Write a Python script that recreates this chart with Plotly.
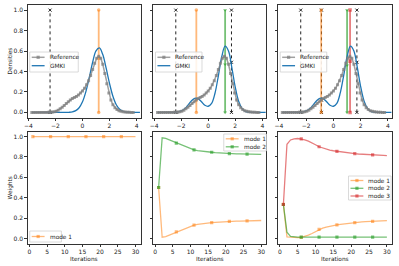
import plotly.graph_objects as go

# ---------------- data ----------------
ref_x = [-3.75, -3.6, -3.45, -3.3, -3.15, -3.0, -2.85, -2.7, -2.55, -2.4, -2.25,
         -2.1, -1.95, -1.8, -1.65, -1.5, -1.35, -1.2, -1.05, -0.9, -0.75, -0.6,
         -0.45, -0.3, -0.15, 0.0, 0.15, 0.3, 0.45, 0.6, 0.75, 0.9, 1.05, 1.2,
         1.35, 1.5, 1.65, 1.8, 1.95, 2.1, 2.25, 2.4, 2.55, 2.7, 2.85, 3.0, 3.15,
         3.3, 3.45, 3.6, 3.75]
ref_y = [0.0, 0.0, 0.0, 0.0, 0.0, 0.0, 0.0, 0.0, 0.0, 0.001, 0.002,
         0.005, 0.012, 0.022, 0.035, 0.05, 0.068, 0.088, 0.105, 0.12, 0.135, 0.145,
         0.155, 0.17, 0.19, 0.21, 0.235, 0.27, 0.31, 0.36, 0.42, 0.48, 0.53, 0.55,
         0.53, 0.47, 0.38, 0.28, 0.19, 0.12, 0.075, 0.045, 0.028, 0.017, 0.01, 0.006, 0.003,
         0.002, 0.001, 0.0, 0.0]

gmki_x = [-3.75, -3.5, -3.25, -3.0, -2.75, -2.5, -2.25, -2.0, -1.75, -1.5, -1.25,
          -1.0, -0.75, -0.5, -0.25, 0.0, 0.25, 0.5, 0.75, 1.0, 1.25, 1.5, 1.75,
          2.0, 2.25, 2.5, 2.75, 3.0, 3.25, 3.5, 3.75, 4.0, 4.25]
gmki_y1 = [0.0, 0.0, 0.0, 0.0, 0.0, 0.0, 0.0, 0.0, 0.0, 0.0, 0.0,
           0.001, 0.005, 0.017, 0.045, 0.103, 0.203, 0.341, 0.49, 0.602, 0.63, 0.565, 0.432,
           0.283, 0.158, 0.075, 0.031, 0.011, 0.003, 0.001, 0.0, 0.0, 0.0]
gmki_y2 = [0.0, 0.0, 0.0, 0.0, 0.0, 0.001, 0.004, 0.014, 0.035, 0.071, 0.111,
           0.137, 0.134, 0.104, 0.07, 0.06, 0.088, 0.187, 0.358, 0.544, 0.647, 0.60, 0.436,
           0.247, 0.109, 0.038, 0.01, 0.002, 0.0, 0.0, 0.0, 0.0, 0.0]
gmki_y3 = [0.0, 0.0, 0.0, 0.0, 0.0, 0.001, 0.004, 0.014, 0.035, 0.071, 0.111,
           0.137, 0.134, 0.104, 0.07, 0.06, 0.088, 0.19, 0.36, 0.545, 0.648, 0.60, 0.44,
           0.25, 0.11, 0.04, 0.01, 0.002, 0.0, 0.0, 0.0, 0.0, 0.0]

# vertical mode markers: positions and middle-marker heights
true_x = [[-2.4], [-2.4, 1.72], [-2.4, -0.88, 1.72]]
true_mid = [[0.0], [0.0, 0.49], [0.0, 0.12, 0.49]]
est_x = [[1.2], [-0.88, 1.25], [-0.9, 1.0, 1.22]]
est_mid = [[0.53], [0.12, 0.47], [0.12, 0.46, 0.5]]

iterations = list(range(1, 31))
w1_mode1 = [1.0, 1.0, 1.0, 1.0, 1.0, 1.0, 1.0, 1.0, 1.0, 1.0, 1.0, 1.0, 1.0, 1.0, 1.0,
            1.0, 1.0, 1.0, 1.0, 1.0, 1.0, 1.0, 1.0, 1.0, 1.0, 1.0, 1.0, 1.0, 1.0, 1.0]
w2_mode2 = [0.50, 0.988, 0.982, 0.968, 0.952, 0.935, 0.92, 0.905, 0.893, 0.881, 0.87,
            0.863, 0.857, 0.852, 0.849, 0.846, 0.843, 0.840, 0.838, 0.835, 0.833,
            0.832, 0.831, 0.830, 0.829, 0.827, 0.826, 0.826, 0.825, 0.825]
w2_mode1 = [0.50, 0.012, 0.018, 0.032, 0.048, 0.065, 0.08, 0.095, 0.107, 0.119, 0.13,
            0.137, 0.143, 0.148, 0.152, 0.155, 0.158, 0.161, 0.163, 0.165, 0.167,
            0.168, 0.169, 0.170, 0.171, 0.173, 0.174, 0.174, 0.175, 0.176]
w3_mode3 = [0.333, 0.925, 0.967, 0.978, 0.981, 0.978, 0.968, 0.955, 0.94, 0.92, 0.90,
            0.888, 0.877, 0.868, 0.861, 0.855, 0.85, 0.845, 0.84, 0.836, 0.832,
            0.829, 0.826, 0.824, 0.822, 0.82, 0.818, 0.816, 0.815, 0.813]
w3_mode2 = [0.333, 0.06, 0.02, 0.013, 0.012, 0.012, 0.012, 0.012, 0.012, 0.012, 0.012,
            0.012, 0.012, 0.012, 0.012, 0.012, 0.012, 0.012, 0.012, 0.012, 0.012,
            0.012, 0.012, 0.012, 0.012, 0.012, 0.012, 0.012, 0.012, 0.012]
w3_mode1 = [0.334, 0.015, 0.013, 0.009, 0.007, 0.01, 0.02, 0.033, 0.048, 0.068, 0.088,
            0.1, 0.111, 0.12, 0.127, 0.133, 0.138, 0.143, 0.148, 0.152, 0.156,
            0.159, 0.162, 0.164, 0.166, 0.168, 0.17, 0.172, 0.173, 0.175]

density_ticks = [-4, -2, 0, 2, 4]
weight_ticks = [0, 5, 10, 15, 20, 25, 30]
y_ticks = [0.0, 0.2, 0.4, 0.6, 0.8, 1.0]

# ---------------- styling ----------------
W, H = 399, 266
FONT = "DejaVu Sans"
C_ORANGE = "rgba(255,127,14,0.55)"
C_GREEN = "rgba(44,160,44,0.65)"
C_RED = "rgba(214,39,40,0.6)"
C_BLUE = "#1f77b4"
C_GRAY = "rgba(128,128,128,0.75)"
mode_colors = [C_ORANGE, C_GREEN, C_RED]
mode_symbols = ["circle", "triangle-down", "square"]

cols_px = [(24, 138), (151, 265), (277, 392)]
top_px = (5, 117.5)
bot_px = (131.5, 243.5)


def xd(c):
    return [c[0] / W, c[1] / W]


def yd(r):
    return [1 - r[1] / H, 1 - r[0] / H]


fig = go.Figure()

# ---- top row ----
gmki_sets = [gmki_y1, gmki_y2, gmki_y3]
for i in range(3):
    n = i + 1
    xa = "x" if n == 1 else f"x{n}"
    ya = "y" if n == 1 else f"y{n}"
    for tx, tm in zip(true_x[i], true_mid[i]):
        fig.add_trace(go.Scatter(x=[tx, tx, tx], y=[0, tm, 1], mode="lines+markers",
                                 line=dict(color="#222", width=1, dash="dot"),
                                 marker=dict(symbol="x-thin", size=3, color="#222",
                                             line=dict(color="#222", width=1)),
                                 showlegend=False, xaxis=xa, yaxis=ya, hoverinfo="skip"))
    for k, (ex, em) in enumerate(zip(est_x[i], est_mid[i])):
        fig.add_trace(go.Scatter(x=[ex, ex, ex], y=[0, em, 1], mode="lines+markers",
                                 line=dict(color=mode_colors[k], width=1.8),
                                 marker=dict(symbol=mode_symbols[k], size=3.5, color=mode_colors[k]),
                                 showlegend=False, xaxis=xa, yaxis=ya, hoverinfo="skip"))
    fig.add_trace(go.Scatter(x=gmki_x, y=gmki_sets[i], mode="lines", name="GMKI",
                             line=dict(color=C_BLUE, width=1.3, shape="spline"),
                             showlegend=False, xaxis=xa, yaxis=ya))
    fig.add_trace(go.Scatter(x=ref_x, y=ref_y, mode="lines+markers", name="Reference",
                             line=dict(color=C_GRAY, width=1.5),
                             marker=dict(symbol="square", size=3, color=C_GRAY),
                             showlegend=False, xaxis=xa, yaxis=ya))

# ---- bottom row ----
weights = [[w1_mode1], [w2_mode1, w2_mode2], [w3_mode1, w3_mode2, w3_mode3]]
mark_idx = list(range(0, 30, 5))
for i in range(3):
    n = i + 4
    xa = f"x{n}"
    ya = f"y{n}"
    for k, w in enumerate(weights[i]):
        fig.add_trace(go.Scatter(x=iterations, y=w, mode="lines",
                                 line=dict(color=mode_colors[k], width=1.3),
                                 showlegend=False, xaxis=xa, yaxis=ya, hoverinfo="skip"))
        fig.add_trace(go.Scatter(x=[iterations[j] for j in mark_idx], y=[w[j] for j in mark_idx],
                                 mode="markers",
                                 marker=dict(symbol="square", size=3.2, color=mode_colors[k]),
                                 showlegend=False, xaxis=xa, yaxis=ya, hoverinfo="skip"))

axis_common = dict(showline=True, linecolor="#333", linewidth=0.8, mirror=True,
                   ticks="outside", ticklen=2.5, tickwidth=0.8, tickcolor="#333",
                   showgrid=False, zeroline=False,
                   tickfont=dict(family=FONT, size=6, color="#222"))

layout = dict(width=W, height=H, margin=dict(l=0, r=0, t=0, b=0),
              paper_bgcolor="white", plot_bgcolor="rgba(0,0,0,0)", showlegend=False,
              font=dict(family=FONT, size=6, color="#222"))

for n in range(1, 7):
    xk = "xaxis" if n == 1 else f"xaxis{n}"
    yk = "yaxis" if n == 1 else f"yaxis{n}"
    col = (n - 1) % 3
    top = n <= 3
    if top:
        layout[xk] = dict(axis_common, domain=xd(cols_px[col]), range=[-4.05, 4.3],
                          tickvals=density_ticks, anchor="y" if n == 1 else f"y{n}")
    else:
        layout[xk] = dict(axis_common, domain=xd(cols_px[col]), range=[-0.45, 31.45],
                          tickvals=weight_ticks, anchor=f"y{n}")
    layout[yk] = dict(axis_common, domain=yd(top_px if top else bot_px), range=[-0.05, 1.05],
                      tickvals=y_ticks, tickformat=".1f", showticklabels=(col == 0),
                      anchor="x" if n == 1 else f"x{n}")

# overlay pixel axis for hand-drawn legends
layout["xaxis7"] = dict(domain=[0, 1], range=[0, W], visible=False, anchor="y7", fixedrange=True)
layout["yaxis7"] = dict(domain=[0, 1], range=[H, 0], visible=False, anchor="x7", fixedrange=True)

LEG_FONT = dict(family=FONT, size=5.8, color="#222")
annotations = []

legends = [
    ((26, 52, 75, 72), [57.3, 65.7],
     [("Reference", C_GRAY, "square", 1.5), ("GMKI", C_BLUE, None, 1.3)]),
    ((153, 52, 200, 72), [57.3, 65.7],
     [("Reference", C_GRAY, "square", 1.5), ("GMKI", C_BLUE, None, 1.3)]),
    ((279, 52, 326, 72), [57.3, 65.7],
     [("Reference", C_GRAY, "square", 1.5), ("GMKI", C_BLUE, None, 1.3)]),
    ((26, 231, 58, 242), [236.5],
     [("mode 1", C_ORANGE, "square", 1.3)]),
    ((222, 134, 265, 151), [138.8, 146.8],
     [("mode 1", C_ORANGE, "square", 1.3), ("mode 2", C_GREEN, "square", 1.3)]),
    ((348, 176, 391, 200), [180.5, 188.3, 196.0],
     [("mode 1", C_ORANGE, "square", 1.3), ("mode 2", C_GREEN, "square", 1.3),
      ("mode 3", C_RED, "square", 1.3)]),
]
for (x0, y0, x1, y1), rows, entries in legends:
    fig.add_trace(go.Scatter(x=[x0, x1, x1, x0, x0], y=[y0, y0, y1, y1, y0], mode="lines",
                             fill="toself", fillcolor="rgba(255,255,255,0.85)",
                             line=dict(color="#d0d0d0", width=0.8),
                             xaxis="x7", yaxis="y7", hoverinfo="skip", showlegend=False))
    for ry, (label, color, sym, lw) in zip(rows, entries):
        fig.add_trace(go.Scatter(x=[x0 + 2, x0 + 15], y=[ry, ry], mode="lines",
                                 line=dict(color=color, width=lw),
                                 xaxis="x7", yaxis="y7", hoverinfo="skip", showlegend=False))
        if sym:
            fig.add_trace(go.Scatter(x=[x0 + 8.5], y=[ry], mode="markers",
                                     marker=dict(symbol=sym, size=3.2, color=color),
                                     xaxis="x7", yaxis="y7", hoverinfo="skip", showlegend=False))
        annotations.append(dict(text=label, x=x0 + 18, y=ry, xref="x7", yref="y7",
                                xanchor="left", yanchor="middle", showarrow=False,
                                font=LEG_FONT))

ann_font = dict(family=FONT, size=5.8, color="#222")
annotations += [
    dict(text="Densities", x=6.5 / W, y=1 - 61 / H, xref="paper", yref="paper",
         xanchor="center", yanchor="middle",
         textangle=-90, showarrow=False, font=ann_font),
    dict(text="Weights", x=6.5 / W, y=1 - 188 / H, xref="paper", yref="paper",
         xanchor="center", yanchor="middle",
         textangle=-90, showarrow=False, font=ann_font),
]
for c in cols_px:
    annotations.append(dict(text="Iterations", x=(c[0] + c[1]) / 2 / W, y=1 - 258.5 / H,
                            xref="paper", yref="paper", xanchor="center", yanchor="middle",
                            showarrow=False, font=ann_font))
layout["annotations"] = annotations

fig.update_layout(**layout)
fig.write_html("out.html", config={"displayModeBar": False},
               post_script="document.body.style.margin='0';document.body.style.padding='0';")
